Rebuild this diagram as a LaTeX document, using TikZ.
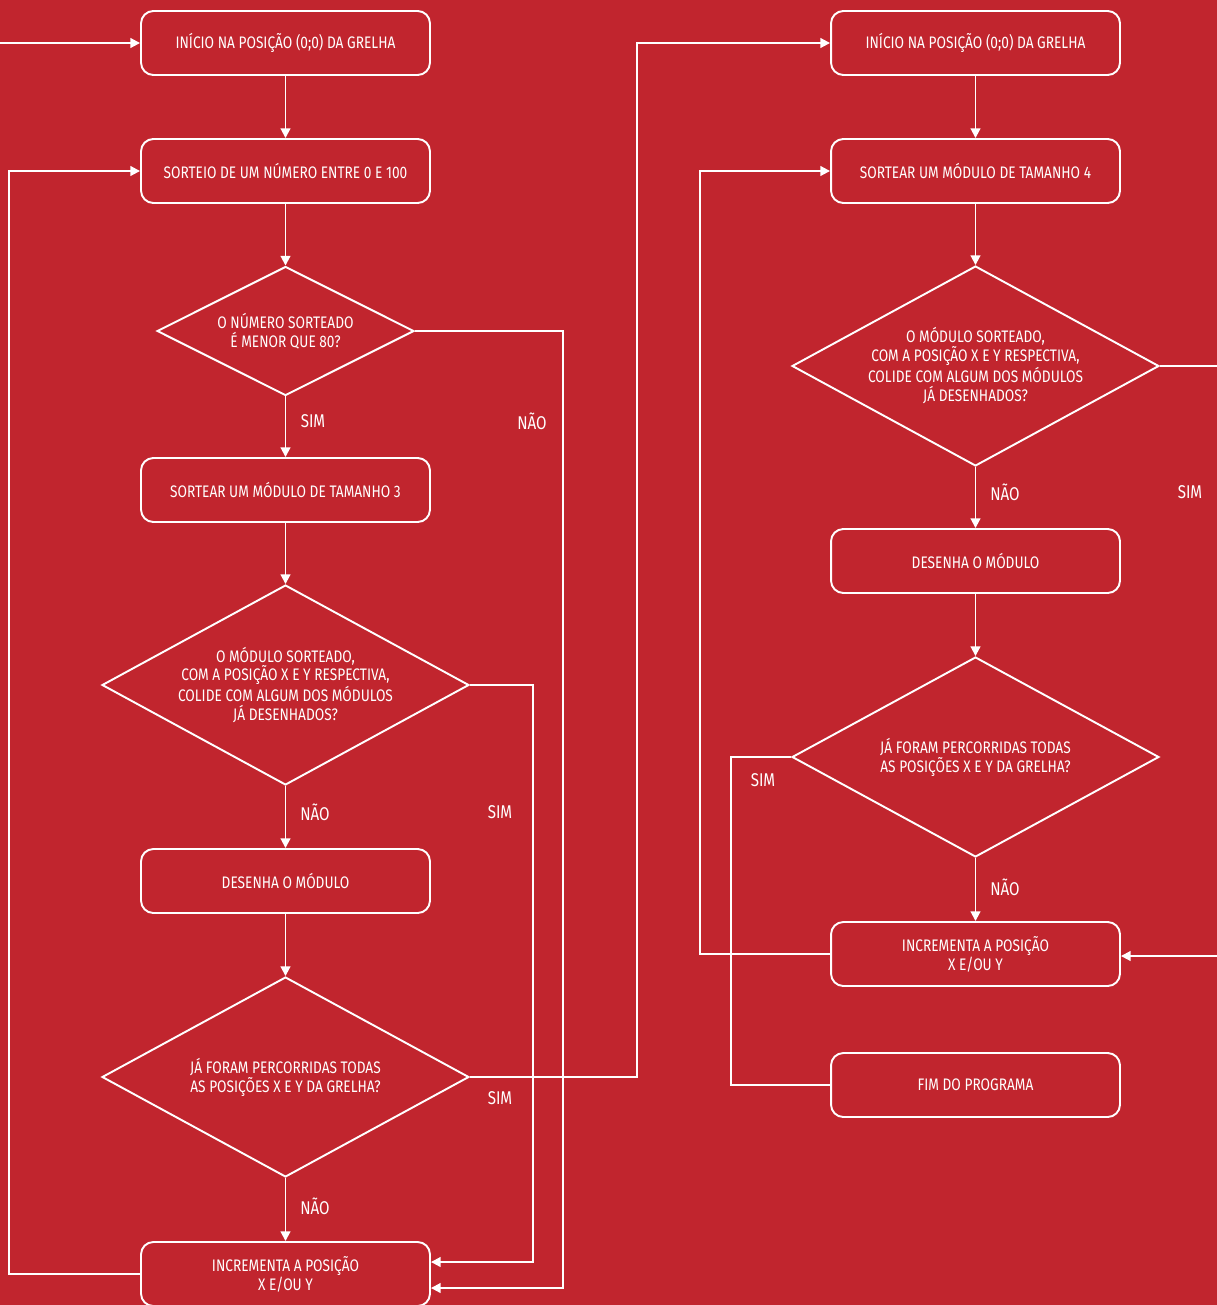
\documentclass[tikz,border=0pt]{standalone}
\usepackage{fontspec}
\setmainfont{Fira Sans}[FakeStretch=0.82]
\usepackage{xcolor}
\usetikzlibrary{positioning}
\usetikzlibrary{shapes.geometric}
\usetikzlibrary{arrows.meta}
\definecolor{bgred}{RGB}{193,37,46}

\begin{document}
\begin{tikzpicture}[
	x=0.02cm, y=-0.02cm,
	every node/.style = {text=white, font=\fontsize{9.5}{10.8}\selectfont, align=center},
	p/.style = {rectangle, draw=white, line width=1.1pt, rounded corners=7pt, minimum width=5.78cm, minimum height=1.28cm, inner sep=0pt},
	q/.style = {diamond, draw=white, line width=1.1pt, inner sep=0pt, minimum width=7.34cm, minimum height=4cm, shape aspect=1.84},
	qs/.style = {q, minimum width=5.14cm, minimum height=2.58cm, shape aspect=2},
	r/.style = {-{Triangle[length=5.5pt, width=5.5pt]}, draw=white, line width=1.1pt},
	w/.style = {draw=white, line width=1.1pt},
	lb/.style = {font=\fontsize{10.5}{12}\selectfont}
	]
	
	\useasboundingbox (0,0) rectangle (1217,1305);
	\fill[bgred] (0,0) rectangle (1217,1305);
	
	% === === Nodes === ===
	\node[p]	(b1)	at	(285.5, 43)		{INÍCIO NA POSIÇÃO (0;0) DA GRELHA};
	\node[p]	(b2)	at	(285.5, 171)	{SORTEIO DE UM NÚMERO ENTRE 0 E 100};
	\node[qs]	(d1)	at	(285.5, 331)	{O NÚMERO SORTEADO\\É MENOR QUE 80?};
	\node[p]	(b3)	at	(285.5, 490)	{SORTEAR UM MÓDULO DE TAMANHO 3};
	\node[q]	(d2)	at	(285.5, 685)	{O MÓDULO SORTEADO,\\COM A POSIÇÃO X E Y RESPECTIVA,\\COLIDE COM ALGUM DOS MÓDULOS\\JÁ DESENHADOS?};
	\node[p]	(b4)	at	(285.5, 881)	{DESENHA O MÓDULO};
	\node[q]	(d3)	at	(285.5, 1077)	{JÁ FORAM PERCORRIDAS TODAS\\AS POSIÇÕES X E Y DA GRELHA?};
	\node[p]	(b5)	at	(285.5, 1274)	{INCREMENTA A POSIÇÃO\\X E/OU Y};
	
	\node[p]	(r1)	at	(975.5, 43)		{INÍCIO NA POSIÇÃO (0;0) DA GRELHA};
	\node[p]	(r2)	at	(975.5, 171)	{SORTEAR UM MÓDULO DE TAMANHO 4};
	\node[q]	(e1)	at	(975.5, 366)	{O MÓDULO SORTEADO,\\COM A POSIÇÃO X E Y RESPECTIVA,\\COLIDE COM ALGUM DOS MÓDULOS\\JÁ DESENHADOS?};
	\node[p]	(r3)	at	(975.5, 561)	{DESENHA O MÓDULO};
	\node[q]	(e2)	at	(975.5, 757)	{JÁ FORAM PERCORRIDAS TODAS\\AS POSIÇÕES X E Y DA GRELHA?};
	\node[p]	(r4)	at	(975.5, 954)	{INCREMENTA A POSIÇÃO\\X E/OU Y};
	\node[p]	(r5)	at	(975.5, 1085)	{FIM DO PROGRAMA};
	
	% labels
	\node[lb]	(l1)	at	(313, 421)		{SIM};
	\node[lb]	(l2)	at	(532, 421)		{NÃO};
	\node[lb]	(l3)	at	(315, 812)		{NÃO};
	\node[lb]	(l4)	at	(500, 812)		{SIM};
	\node[lb]	(l5)	at	(315, 1206)		{NÃO};
	\node[lb]	(l6)	at	(500, 1098)		{SIM};
	\node[lb]	(l7)	at	(1005, 492)		{NÃO};
	\node[lb]	(l8)	at	(1190, 492)		{SIM};
	\node[lb]	(l9)	at	(1005, 887)		{NÃO};
	\node[lb]	(l10)	at	(763, 780)		{SIM};
	
	% bends
	\coordinate	(in)	at	(-5, 43);
	\coordinate	(c1)	at	(563, 1288);
	\coordinate	(c2)	at	(533, 1262);
	\coordinate	(c3)	at	(637, 43);
	\coordinate	(c4)	at	(9, 171);
	\coordinate	(c5)	at	(1222, 956);
	\coordinate	(c6)	at	(731, 1085);
	\coordinate	(c7)	at	(700, 171);
	
	
	% === === Lines === ===
	\draw[r]	(in)		to	(b1.west);
	\draw[r]	(b1.south)	to	(b2.north);
	\draw[r]	(b2.south)	to	(d1.north);
	\draw[r]	(d1.south)	to	(b3.north);
	\draw[r]	(b3.south)	to	(d2.north);
	\draw[r]	(d2.south)	to	(b4.north);
	\draw[r]	(b4.south)	to	(d3.north);
	\draw[r]	(d3.south)	to	(b5.north);
	
	\draw[r]	(d1.east)	-|	(c1)	--	(c1 -| b5.east);
	\draw[r]	(d2.east)	-|	(c2)	--	(c2 -| b5.east);
	\draw[r]	(d3.east)	-|	(c3)	--	(r1.west);
	\draw[r]	(b5.west)	-|	(c4)	--	(b2.west);
	
	\draw[r]	(r1.south)	to	(r2.north);
	\draw[r]	(r2.south)	to	(e1.north);
	\draw[r]	(e1.south)	to	(r3.north);
	\draw[r]	(r3.south)	to	(e2.north);
	\draw[r]	(e2.south)	to	(r4.north);
	
	\draw[r]	(e1.east)	-|	(c5)	--	(c5 -| r4.east);
	\draw[w]	(e2.west)	-|	(c6)	--	(r5.west);
	\draw[r]	(r4.west)	-|	(c7)	--	(r2.west);
	
	
\end{tikzpicture}
\end{document}
